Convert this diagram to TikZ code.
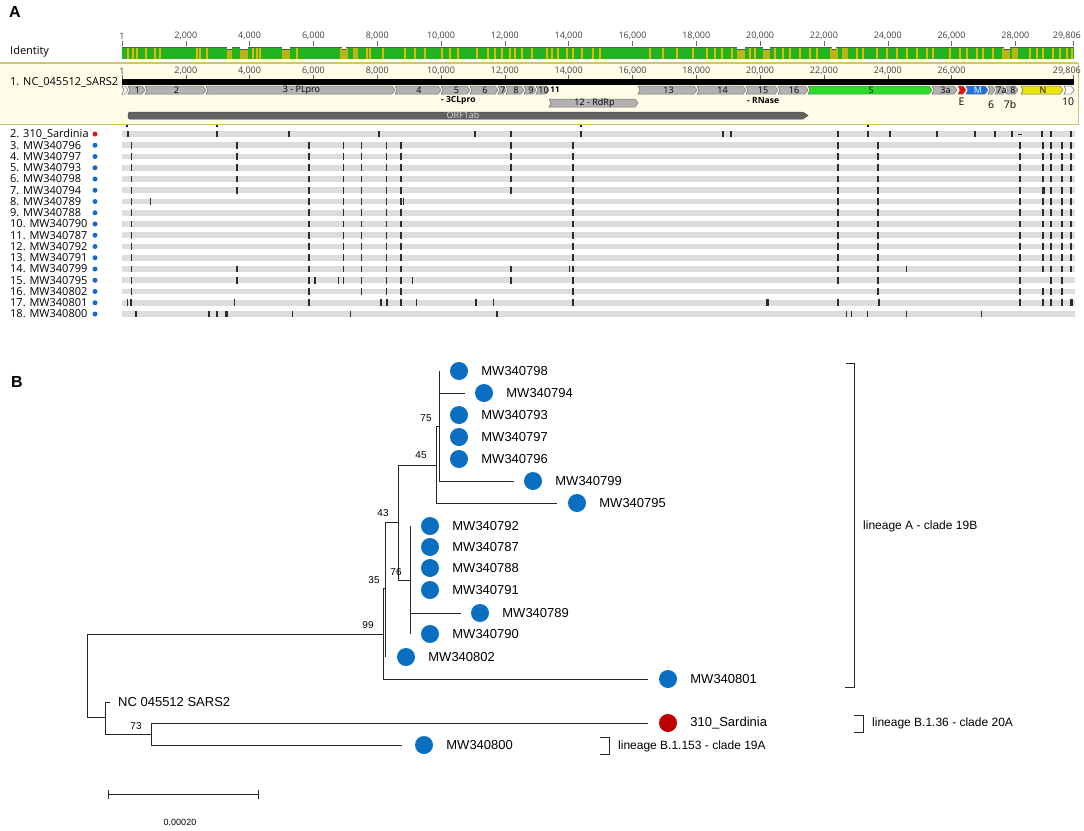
\documentclass[tikz,border=0pt]{standalone}
\usepackage{fontspec}
\setmainfont{Liberation Sans}
\newfontfamily\uifont{Open Sans}
\usetikzlibrary{positioning}

\definecolor{band}{RGB}{255,253,232}
\definecolor{bandline}{RGB}{205,198,110}
\definecolor{idgreen}{RGB}{34,178,34}
\definecolor{idolive}{RGB}{186,180,24}
\definecolor{idstripe}{RGB}{228,182,10}
\definecolor{genegrey}{RGB}{178,178,178}
\definecolor{genedraw}{RGB}{110,110,110}
\definecolor{sgreen}{RGB}{40,222,40}
\definecolor{ered}{RGB}{240,10,10}
\definecolor{mblue}{RGB}{25,115,230}
\definecolor{nyellow}{RGB}{238,230,10}
\definecolor{orfgrey}{RGB}{98,98,98}
\definecolor{rowgrey}{RGB}{221,221,221}
\definecolor{snpdark}{RGB}{45,45,45}
\definecolor{dotA}{RGB}{25,105,205}
\definecolor{redA}{RGB}{235,20,20}
\definecolor{leafblue}{RGB}{10,110,195}
\definecolor{leafred}{RGB}{190,0,0}

% gene arrow: name, start, end, y, fill, text
\newcommand{\gene}[6]{%
  \filldraw[genebox,fill=#5] (#2,#4-4) -- (#3-3,#4-4) -- (#3,#4) -- (#3-3,#4+4) -- (#2,#4+4) -- (#2+2,#4) -- cycle;
  \node[genelbl] (#1) at ({(#2+#3)/2+1},#4) {#6};}

\begin{document}
\begin{tikzpicture}
  [x=1pt,y=-1pt,
  panel/.style={font=\bfseries\fontsize{16}{16}\selectfont,inner sep=0pt},
  rulernum/.style={font=\uifont\fontsize{9}{9}\selectfont,text=black!75,inner sep=0pt},
  rulertick/.style={draw=black!60,line width=0.5pt},
  genebox/.style={draw=genedraw,line width=0.5pt},
  genelbl/.style={font=\uifont\fontsize{9}{9}\selectfont,inner sep=0pt},
  subname/.style={font=\uifont\bfseries\fontsize{8.5}{8.5}\selectfont,inner sep=0pt,anchor=west},
  below/.style={font=\uifont\fontsize{10.5}{10.5}\selectfont,inner sep=0pt},
  rowlbl/.style={font=\uifont\fontsize{11}{11}\selectfont,inner sep=0pt,anchor=west},
  rowdot/.style={circle,minimum size=5pt,inner sep=0pt},
  leaf/.style={circle,fill=leafblue,minimum size=18pt,inner sep=0pt},
  tlab/.style={font=\fontsize{13}{13}\selectfont,inner sep=1pt},
  boot/.style={font=\fontsize{10}{10}\selectfont,inner sep=0pt},
  branch/.style={draw=black!85,line width=0.9pt},
  lineage/.style={font=\fontsize{12}{12}\selectfont,inner sep=0pt,anchor=west}
  ]
  \useasboundingbox (0,0) rectangle (1084,830);

  % ---------- panel A ----------
  \node[panel] (pA) at (15,12) {A};
  \node[rowlbl] (ident) at (10,52) {Identity};

  \fill[band] (0,63) rectangle (1078,124.5);
  \draw[bandline,line width=1.4pt] (0,63) -- (1078,63);
  \draw[bandline,line width=1.4pt] (0,124.5) -- (1078,124.5);
  \draw[bandline,line width=0.8pt] (1078,63) -- (1078,124.5);

  % rulers (position in thousands of bases)
  \foreach \p/\t/\sec [count=\k] in {0.001/1/1,2/{2,000}/1,4/{4,000}/1,6/{6,000}/1,8/{8,000}/1,10/{10,000}/1,
      12/{12,000}/1,14/{14,000}/1,16/{16,000}/1,18/{18,000}/1,20/{20,000}/1,
      22/{22,000}/1,24/{24,000}/1,26/{26,000}/1,28/{28,000}/0}{
    \pgfmathsetmacro\xx{122+\p*31.906}
    \draw[rulertick] (\xx,41) -- (\xx,45.5);
    \node[rulernum] (ra\k) at (\xx,36) {\t};
    \ifnum\sec=1
      \draw[rulertick] (\xx,75) -- (\xx,78.5);
      \node[rulernum] (rb\k) at (\xx,71) {\t};
    \fi
  }
  \draw[rulertick] (1073,41) -- (1073,45.5);
  \draw[rulertick] (1073,75) -- (1073,78.5);
  \node[rulernum,anchor=east] (raEnd) at (1081,36) {29,806};
  \node[rulernum,anchor=east] (rbEnd) at (1081,71) {29,806};

  % identity bar
  \fill[idgreen] (122,47.5) rectangle (1074,59);
  \foreach \a/\b in {227/232,240/248,282/290,340/348,353/358,737/745,763/770,830/838,842/848,1002/1010,1012/1018}
    \fill[idolive] (\a,47.5) rectangle (\b,59);
  \foreach \s in {128,133,137,146,155,160,197,200,207,253,257,260,297,367,370,383,405,415,425,442,450,458,
      477,488,495,502,510,515,522,532,547,552,558,567,573,582,593,600,650,663,677,693,707,715,722,732,
      750,755,775,783,790,800,810,817,857,863,877,887,897,907,917,927,933,950,960,967,977,983,993,
      1030,1037,1043,1053,1060,1067,1072}
    \fill[idstripe] (\s-0.6,47.5) rectangle (\s+0.6,59);
  \draw[black!65,line width=0.8pt] (122,47.3) -- (1074,47.3);
  \foreach \a/\b in {227/232,240/248,282/290,342/346,737/745,763/770,832/836,1004/1010}{
    \fill[white] (\a,46.5) rectangle (\b,49.5);
    \draw[black!65,line width=0.8pt] (\a,49.5) -- (\b,49.5);
  }

  % reference sequence
  \node[rowlbl] (refname) at (10,82) {1. NC\_045512\_SARS2};
  \fill[black] (122,79.3) rectangle (1074,85);

  \gene{g0}{122}{128}{90}{white}{}
  \gene{g1}{128}{145}{90}{genegrey}{1}
  \gene{g2}{145}{206}{90}{genegrey}{2}
  \gene{g3}{206}{395}{90}{genegrey}{3 - PLpro}
  \gene{g4}{395}{441}{90}{genegrey}{4}
  \gene{g5}{441}{470}{90}{genegrey}{5}
  \gene{g6}{470}{498}{90}{genegrey}{6}
  \gene{g7}{498}{506}{90}{genegrey}{7}
  \gene{g8}{506}{524}{90}{genegrey}{8}
  \gene{g9}{524}{536}{90}{genegrey}{9}
  \gene{g10}{536}{549}{90}{genegrey}{10}
  \node[genelbl,font=\uifont\bfseries\fontsize{8}{8}\selectfont] (g11) at (555,90) {11};
  \gene{g12}{549}{638}{103}{genegrey}{12 - RdRp}
  \gene{g13}{638}{697}{90}{genegrey}{13}
  \gene{g14}{697}{746}{90}{genegrey}{14}
  \gene{g15}{746}{778}{90}{genegrey}{15}
  \gene{g16}{778}{808}{90}{genegrey}{16}
  \gene{gS}{808}{932}{90}{sgreen}{S}
  \gene{g3a}{932}{957}{90}{genegrey}{3a}
  \gene{gE}{958}{966}{90}{ered}{}
  \gene{gM}{966}{988}{90}{mblue}{\textcolor{white}{M}}
  \gene{gsix}{988}{995}{90}{genegrey}{}
  \gene{g7a}{995}{1006}{90}{genegrey}{7a}
  \gene{g8b}{1006}{1018}{90}{genegrey}{8}
  \gene{gN}{1021}{1063}{90}{nyellow}{N}
  \gene{g10b}{1064}{1074}{90}{white}{}

  \node[subname] (cl) at (441,100.5) {- 3CLpro};
  \node[subname] (rn) at (747,100.5) {- RNase};
  \node[below] (lE) at (961.5,102) {E};
  \node[below] (l6) at (991,105) {6};
  \node[below] (l7b) at (1010,105) {7b};
  \node[below] (l10) at (1068,102) {10};

  % ORF1ab
  \filldraw[fill=orfgrey,draw=black!70,line width=0.5pt,rounded corners=1.5pt]
    (128,112) -- (803,112) [sharp corners] -- (808,115.5) -- (803,119) [rounded corners=1.5pt] -- (128,119) -- cycle;
  \node[genelbl,text=black!15] (orf) at (463,115.5) {ORF1ab};

  \foreach \q in {127,217,581,868}
    \fill[blue] (\q-1.3,124.8) rectangle (\q+1.3,127.4);

  % aligned genomes
  \foreach \n/\lbl/\col/\ticks in {
    2/310\_Sardinia/redA/{128,217,289,379,475,511,581,723,731,838,868,890,937,975,995,1012,1042,1051,1071},
    3/MW340796/dotA/{131.7,237,309,343.7,361.3,386.7,401,511,573,838,878,1020,1043,1051,1062,1071},
    4/MW340797/dotA/{131.7,237,309,343.7,361.3,386.7,401,511,573,838,878,1020,1043,1051,1062,1071},
    5/MW340793/dotA/{131.7,237,309,343.7,361.3,386.7,401,511,573,838,878,1020,1043,1051,1062,1071},
    6/MW340798/dotA/{131.7,237,309,343.7,361.3,386.7,401,511,573,838,878,1020,1043,1051,1062,1071},
    7/MW340794/dotA/{131.7,237,309,343.7,361.3,386.7,401,511,573,838,878,1020,1043,1044.2,1051,1062,1071},
    8/MW340789/dotA/{131.7,150.7,309,343.7,361.3,386.7,401,403.5,573,838,878,1020,1043,1051,1062,1071},
    9/MW340788/dotA/{131.7,309,343.7,361.3,386.7,401,573,838,878,1020,1043,1051,1062,1071},
    10/MW340790/dotA/{131.7,309,343.7,361.3,386.7,401,573,838,878,1020,1043,1051,1062,1071},
    11/MW340787/dotA/{131.7,309,343.7,361.3,386.7,401,573,838,878,1020,1043,1051,1062,1071},
    12/MW340792/dotA/{131.7,309,343.7,361.3,386.7,401,573,838,878,1020,1043,1051,1062,1071},
    13/MW340791/dotA/{131.7,309,343.7,361.3,386.7,401,573,838,878,1020,1043,1051,1062,1071},
    14/MW340799/dotA/{131.7,237,309,343.7,361.3,386.7,401,511,569.3,573,838,878,906.7,1020,1043,1051,1062,1071},
    15/MW340795/dotA/{131.7,237,309,315,338.7,343.7,361.3,386.7,401,412.7,511,573,838,878,1020,1051,1062},
    16/MW340802/dotA/{131.7,309,361.3,386.7,401,573,878,1020,1043,1051,1062},
    17/MW340801/dotA/{127.7,131,234.3,309,381,386.7,387.8,401,416.7,476,493.7,573,767,768.3,838,879,1020,1043,1051,1062,1071,1072.2},
    18/MW340800/dotA/{136,209,217,226,227.5,292.7,350.7,497,846.7,851.7,867.7,906.7,981.7}}{
    \pgfmathsetmacro\yy{134+(\n-2)*11.25}
    \node[rowlbl] (row\n) at (10,\yy) {\n. \lbl};
    \node[rowdot,fill=\col] (dot\n) at (95,\yy) {};
    \fill[rowgrey] (122,\yy-2.8) rectangle (1075,\yy+2.8);
    \foreach \t in \ticks
      \fill[snpdark] (\t-0.6,\yy-3.3) rectangle (\t+0.6,\yy+3.3);
  }
  \draw[snpdark,line width=0.8pt] (1018,134) -- (1022,134);

  % ---------- panel B ----------
  \node[panel] (pB) at (17,382) {B};

  \coordinate (root) at (87,675);
  \coordinate (n99) at (383,634);
  \coordinate (n35) at (385,588);
  \coordinate (n43) at (398,522);
  \coordinate (n45) at (436,465);
  \coordinate (n75) at (439,426);
  \coordinate (n76) at (410,580);
  \coordinate (nB) at (105,717);
  \coordinate (n73) at (151,734);

  \node[leaf] (c798) at (459,371) {};
  \node[leaf] (c794) at (484,393) {};
  \node[leaf] (c793) at (459,415) {};
  \node[leaf] (c797) at (459,437) {};
  \node[leaf] (c796) at (459,459) {};
  \node[leaf] (c799) at (533,481) {};
  \node[leaf] (c795) at (577,503) {};
  \node[leaf] (c792) at (430,526) {};
  \node[leaf] (c787) at (430,547) {};
  \node[leaf] (c788) at (430,568) {};
  \node[leaf] (c791) at (430,590) {};
  \node[leaf] (c789) at (480,613) {};
  \node[leaf] (c790) at (430,634) {};
  \node[leaf] (c802) at (406,657) {};
  \node[leaf] (c801) at (668,679) {};
  \node[leaf,fill=leafred] (cSar) at (668,723) {};
  \node[leaf] (c800) at (424,745) {};

  \node[tlab,right=12pt of c798] (t798) {MW340798};
  \node[tlab,right=12pt of c794] (t794) {MW340794};
  \node[tlab,right=12pt of c793] (t793) {MW340793};
  \node[tlab,right=12pt of c797] (t797) {MW340797};
  \node[tlab,right=12pt of c796] (t796) {MW340796};
  \node[tlab,right=12pt of c799] (t799) {MW340799};
  \node[tlab,right=12pt of c795] (t795) {MW340795};
  \node[tlab,right=12pt of c792] (t792) {MW340792};
  \node[tlab,right=12pt of c787] (t787) {MW340787};
  \node[tlab,right=12pt of c788] (t788) {MW340788};
  \node[tlab,right=12pt of c791] (t791) {MW340791};
  \node[tlab,right=12pt of c789] (t789) {MW340789};
  \node[tlab,right=12pt of c790] (t790) {MW340790};
  \node[tlab,right=12pt of c802] (t802) {MW340802};
  \node[tlab,right=12pt of c801] (t801) {MW340801};
  \node[tlab,right=12pt of cSar] (tSar) {310\_Sardinia};
  \node[tlab,right=12pt of c800] (t800) {MW340800};
  \node[tlab,anchor=west] (tNC) at (117,702) {NC 045512 SARS2};

  \draw[branch] (root) |- (n99);
  \draw[branch] (root) |- (nB);
  \draw[branch] (n99) |- (n35);
  \draw[branch] (n99) |- ([xshift=-11pt]c801.west);
  \draw[branch] (n35) |- (n43);
  \draw[branch] (n35) -- (n35 |- c802);
  \draw[branch] (n43) |- (n45);
  \draw[branch] (n43) |- (n76);
  \draw[branch] (n45) |- (n75);
  \draw[branch] (n45) |- ([xshift=-11pt]c795.west);
  \draw[branch] (n75) -- (n75 |- c798);
  \draw[branch] (n75) |- ([xshift=-10pt]c794.west);
  \draw[branch] (n75) |- ([xshift=-10pt]c799.west);
  \draw[branch] (n76) -- (n76 |- c792);
  \draw[branch] (n76) -- (n76 |- c790);
  \draw[branch] (n76) |- ([xshift=-10pt]c789.west);
  \draw[branch] (nB) |- ([xshift=-7pt]tNC.west);
  \draw[branch] (nB) |- (n73);
  \draw[branch] (n73) |- ([xshift=-11pt]cSar.west);
  \draw[branch] (n73) |- ([xshift=-13pt]c800.west);

  \node[boot] (b99) at (368,625) {99};
  \node[boot] (b35) at (374,580) {35};
  \node[boot] (b43) at (383,513) {43};
  \node[boot] (b76) at (396,572) {76};
  \node[boot] (b45) at (421,455) {45};
  \node[boot] (b75) at (426,418) {75};
  \node[boot] (b73) at (136,726) {73};

  % lineage brackets
  \draw[branch] (846,363) -- (854,363) -- (854,687) -- (845,687);
  \node[lineage] (linA) at (863,526) {lineage A - clade 19B};
  \draw[branch] (854,715) -- (863,715) -- (863,732) -- (854,732);
  \node[lineage] (linB136) at (872,723) {lineage B.1.36 - clade 20A};
  \draw[branch] (600,737) -- (609,737) -- (609,754) -- (600,754);
  \node[lineage] (linB153) at (618,746) {lineage B.1.153 - clade 19A};

  % scale bar
  \coordinate (sb1) at (108,794);
  \coordinate (sb2) at (258,794);
  \draw[branch] (sb1) -- (sb2);
  \draw[branch] ([yshift=-4.5pt]sb1) -- ([yshift=4.5pt]sb1);
  \draw[branch] ([yshift=-4.5pt]sb2) -- ([yshift=4.5pt]sb2);
  \node[boot,font=\fontsize{9}{9}\selectfont] (sblbl) at (180,822) {0.00020};
\end{tikzpicture}
\end{document}
